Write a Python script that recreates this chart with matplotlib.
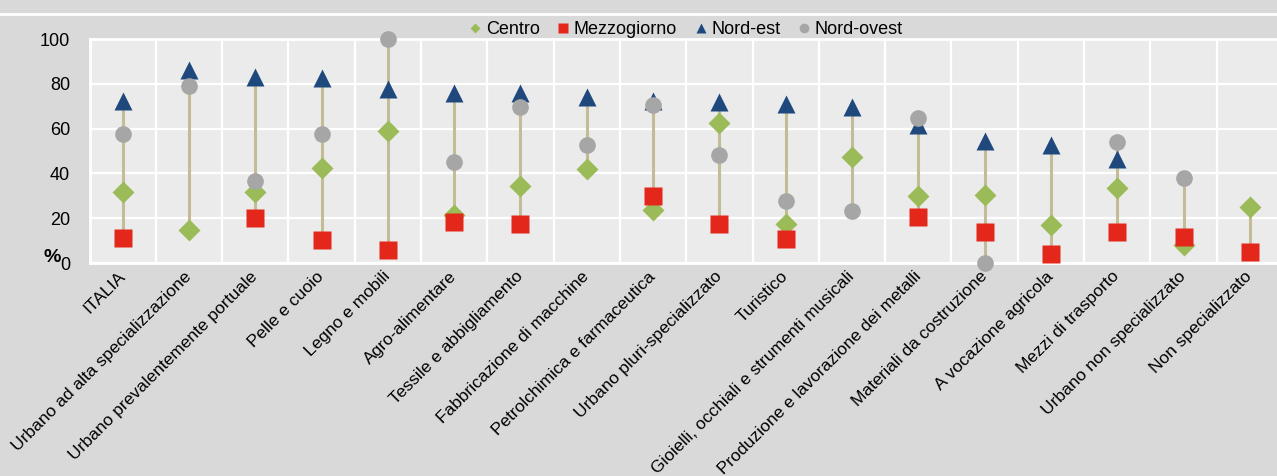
import numpy as np
import matplotlib
matplotlib.use("Agg")
import matplotlib.pyplot as plt
from matplotlib import font_manager
from matplotlib.lines import Line2D

nan = np.nan

categories = ["ITALIA", "Urbano ad alta specializzazione", "Urbano prevalentemente portuale",
              "Pelle e cuoio", "Legno e mobili", "Agro-alimentare", "Tessile e abbigliamento",
              "Fabbricazione di macchine", "Petrolchimica e farmaceutica", "Urbano pluri-specializzato",
              "Turistico", "Gioielli, occhiali e strumenti musicali",
              "Produzione e lavorazione dei metalli", "Materiali da costruzione",
              "A vocazione agricola", "Mezzi di trasporto", "Urbano non specializzato",
              "Non specializzato"]

centro = [31.5, 14.8, 31.8, 42.5, 58.9, 21.5, 34.2, 42.0, 23.8, 62.3, 17.5, 47.2, 29.7, 30.2, 16.9, 33.5, 8.1, 25.2]
mezzogiorno = [11.0, nan, 20.0, 10.3, 5.8, 18.2, 17.5, nan, 30.0, 17.3, 10.6, nan, 20.5, 13.8, 3.9, 13.8, 11.5, 4.8]
nord_est = [72.3, 86.0, 83.0, 82.8, 77.6, 76.0, 75.8, 74.0, 72.3, 72.0, 70.9, 69.7, 61.4, 54.4, 52.6, 46.6, nan, nan]
nord_ovest = [57.7, 78.8, 36.5, 57.4, 100.0, 45.0, 69.8, 52.9, 70.5, 48.4, 27.5, 23.3, 64.6, 0.1, nan, 54.0, 38.0, nan]

yticks = [0, 20, 40, 60, 80, 100]

# narrow font if available, otherwise Liberation Sans
names = {f.name for f in font_manager.fontManager.ttflist}
if "Liberation Sans Narrow" in names:
    fam, fs = ["Liberation Sans Narrow", "DejaVu Sans"], 14.5
else:
    fam, fs = ["Liberation Sans", "DejaVu Sans"], 12.5
plt.rcParams["font.family"] = fam

bg = "#d9d9d9"
fig = plt.figure(figsize=(12.77, 4.76), dpi=100, facecolor=bg)
W, H = 1277, 476
ax = fig.add_axes([89.5 / W, 1 - 263 / H, (1283 - 89.5) / W, (263 - 39) / H])
ax.set_facecolor("#ebebeb")

x = np.arange(len(categories))
vals = np.array([centro, mezzogiorno, nord_est, nord_ovest], dtype=float)
lo = np.nanmin(vals, axis=0)
hi = np.nanmax(vals, axis=0)
ax.vlines(x, lo, hi, color="#c4bc96", lw=2.2, zorder=2)

ax.plot(x, centro, "D", color="#9bbb59", ms=11.5, mec="none", zorder=3, clip_on=False)
ax.plot(x, mezzogiorno, "s", color="#e3281b", ms=12.5, mec="none", zorder=4, clip_on=False)
ax.plot(x, nord_est, "^", color="#1f497d", ms=13.5, mec="none", zorder=5, clip_on=False)
ax.plot(x, nord_ovest, "o", color="#a6a6a6", ms=12, mec="none", zorder=6, clip_on=False)

ax.set_xlim(-0.5, len(categories) - 0.5)
ax.set_ylim(0, 100)
ax.set_yticks(yticks)
ax.set_yticklabels([str(v) for v in yticks], fontsize=fs + 0.5)
ax.set_xticks(x)
ax.set_xticklabels(categories, rotation=45, ha="right", va="center",
                   rotation_mode="anchor", fontsize=fs)
ax.tick_params(axis="both", length=0)
ax.tick_params(axis="y", pad=14)
ax.tick_params(axis="x", pad=8)

# white grid
ax.set_xticks(np.arange(len(categories) + 1) - 0.5, minor=True)
ax.grid(axis="x", which="minor", color="white", lw=1.6)
ax.grid(axis="y", which="major", color="white", lw=1.6)
ax.tick_params(which="minor", length=0)
ax.set_axisbelow(True)
for s in ax.spines.values():
    s.set_color("white")
    s.set_linewidth(2)

fig.text(44 / W, 1 - 257 / H, "%", ha="left", va="center", fontsize=fs + 1.5, weight="bold")
fig.add_artist(Line2D([0, 1], [1 - 14 / H, 1 - 14 / H], transform=fig.transFigure,
                      color="white", lw=2))

handles = [
    Line2D([], [], ls="none", marker="D", color="#9bbb59", ms=5.5, mec="none", label="Centro"),
    Line2D([], [], ls="none", marker="s", color="#e3281b", ms=7, mec="none", label="Mezzogiorno"),
    Line2D([], [], ls="none", marker="^", color="#1f497d", ms=7.5, mec="none", label="Nord-est"),
    Line2D([], [], ls="none", marker="o", color="#a6a6a6", ms=7, mec="none", label="Nord-ovest"),
]
ax.legend(handles=handles, loc="lower center", bbox_to_anchor=(0.5, 0.995), ncol=4,
          frameon=False, fontsize=fs + 0.5, handlelength=0.6, handletextpad=0.3,
          columnspacing=1.0, borderaxespad=0, borderpad=0.1)

fig.savefig("out.png", dpi=100, facecolor=bg)
